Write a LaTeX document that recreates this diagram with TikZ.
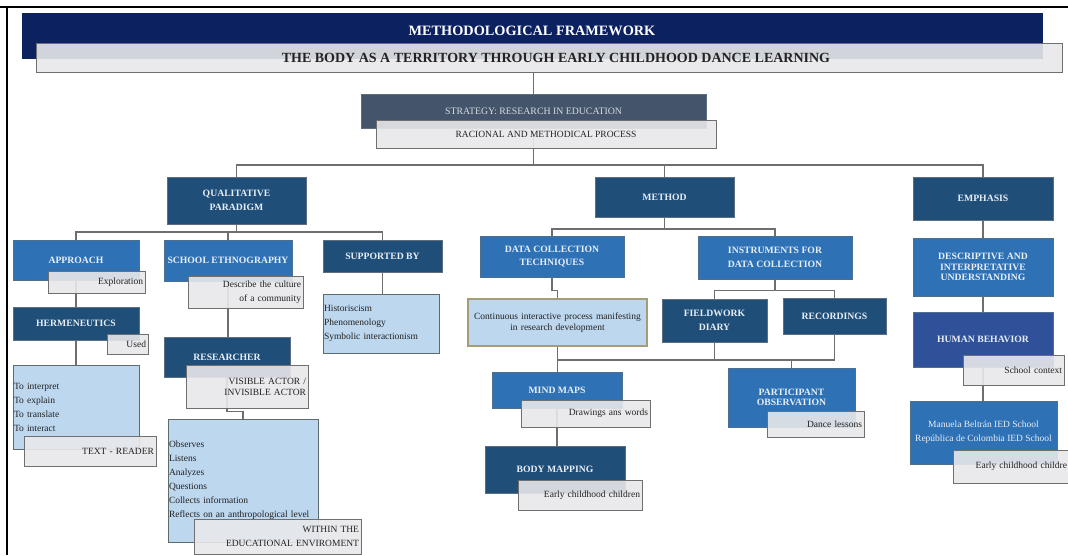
\documentclass[tikz,border=0pt]{standalone}
\usepackage{fontspec}
\setmainfont{Liberation Serif}
\usetikzlibrary{backgrounds}
\definecolor{navy}{HTML}{0B2160}
\definecolor{slate}{HTML}{44546A}
\definecolor{dblue}{HTML}{1F4E79}
\definecolor{mblue}{HTML}{2E72B5}
\definecolor{hblue}{HTML}{2E519A}
\definecolor{lblue}{HTML}{BDD7EE}
\definecolor{gfill}{HTML}{E8E8EA}
\definecolor{gborder}{HTML}{6F6F6F}
\definecolor{dborder}{HTML}{5E6E7E}
\definecolor{mborder}{HTML}{4F6F8F}
\definecolor{lborder}{HTML}{5C6B6B}
\definecolor{oborder}{HTML}{A39E78}
\definecolor{linegrey}{HTML}{6E6E6E}
\definecolor{ltxt}{HTML}{E8EEF6}
\definecolor{stxt}{HTML}{D8DCE2}
\definecolor{dtxt}{HTML}{222222}
\tikzset{
  conn/.style={draw=linegrey, line width=1.1pt},
  bx/.style={rectangle, line width=1pt, inner sep=2pt, align=center},
  dbox/.style={bx, draw=dborder, fill=dblue, text=ltxt, font=\fontsize{9.7}{13.5}\selectfont\bfseries},
  mbox/.style={bx, draw=mborder, fill=mblue, text=ltxt, font=\fontsize{9.7}{13.5}\selectfont\bfseries},
  hbox/.style={bx, draw=mborder, fill=hblue, text=ltxt, font=\fontsize{9.7}{13.5}\selectfont\bfseries},
  sbox/.style={bx, draw=dborder, fill=slate, text=stxt, font=\fontsize{9.8}{11}\selectfont},
  navybox/.style={bx, draw=navy, fill=navy},
  gbox/.style={bx, draw=gborder, fill=gfill, fill opacity=0.9, text opacity=1, text=dtxt, font=\fontsize{9.5}{14}\selectfont},
  gright/.style={gbox, align=right},
  lbox/.style={bx, draw=lborder, fill=lblue, text=dtxt, align=left, inner xsep=1pt, font=\fontsize{9.5}{14}\selectfont},
}
\begin{document}
\begin{tikzpicture}[x=1pt,y=-1pt]
\useasboundingbox (0,0) rectangle (1068,555);
\begin{scope}[on background layer]
\fill[white] (0,0) rectangle (1068,555);
\end{scope}
\clip (0,0) rectangle (1068,555);
\draw[line width=1.5pt] (0,7) -- (1068,7);
\draw[line width=1.5pt] (7,7) -- (7,555);

% header
\node[navybox, minimum width=1020, minimum height=45,
  label={[text=white, font=\fontsize{14.3}{16}\selectfont\bfseries, yshift=4.5pt]center:METHODOLOGICAL FRAMEWORK}] (title) at (532,35.5) {};
\node[gbox, minimum width=1026, minimum height=29, font=\fontsize{14}{16}\selectfont\bfseries] (titleg) at (549,57.5) {\hspace*{14pt}THE BODY AS A TERRITORY THROUGH EARLY CHILDHOOD DANCE LEARNING};
\node[sbox, minimum width=345, minimum height=34, yshift=2pt] (strat) at (533.5,113) {STRATEGY: RESEARCH IN EDUCATION};
\node[gbox, minimum width=340, minimum height=28] (racional) at (546,134) {RACIONAL AND METHODICAL PROCESS};

% level 1
\node[dbox, minimum width=139, minimum height=47] (qual) at (236.5,200.5) {QUALITATIVE\\PARADIGM};
\node[dbox, minimum width=139, minimum height=40] (method) at (664.5,197) {METHOD};
\node[dbox, minimum width=140, minimum height=43] (emph) at (983,198.5) {EMPHASIS};

% qualitative branch
\node[mbox, minimum width=126, minimum height=40] (app) at (76,260) {APPROACH};
\node[gright, minimum height=22, text width=93] (explo) at (96.5,282) {Exploration};
\node[mbox, minimum width=128, minimum height=41] (eth) at (228,260.5) {SCHOOL ETHNOGRAPHY};
\node[gright, minimum height=32, text width=111] (describe) at (245.5,292) {Describe the culture\\of a community};
\node[dbox, minimum width=119, minimum height=32] (sup) at (382.5,256) {SUPPORTED BY};
\node[lbox, minimum height=59, text width=114] (slist) at (381,323.5) {Historiscism\\Phenomenology\\Symbolic interactionism};
\node[dbox, minimum width=126, minimum height=33] (herm) at (76,323.5) {HERMENEUTICS};
\node[gright, minimum height=20, text width=37] (used) at (127.5,344) {Used};
\node[lbox, minimum height=84, text width=124] (hlist) at (76,407) {To interpret\\To explain\\To translate\\To interact};
\node[gright, minimum height=30, text width=128] (textr) at (90,451) {TEXT - READER};
\node[dbox, minimum width=126, minimum height=40] (res) at (227,357) {RESEARCHER};
\node[gright, minimum height=43, text width=118, font=\fontsize{9.5}{11}\selectfont] (vis) at (247,386.5) {VISIBLE ACTOR /\\INVISIBLE ACTOR};
\node[lbox, minimum height=123, text width=148] (rlist) at (243,480.5) {Observes\\Listens\\Analyzes\\Questions\\Collects information\\Reflects on an anthropological level};
\node[gright, minimum height=35, text width=163] (within) at (277.5,536.5) {WITHIN THE\\EDUCATIONAL ENVIROMENT};

% method branch
\node[mbox, minimum width=144, minimum height=41] (dct) at (552,256.5) {DATA COLLECTION\\TECHNIQUES};
\node[mbox, minimum width=154, minimum height=43] (ins) at (775,257.5) {INSTRUMENTS FOR\\DATA COLLECTION};
\node[lbox, draw=oborder, line width=1.3pt, align=center, minimum height=47, text width=177, font=\fontsize{9.5}{10.5}\selectfont] (cont) at (557.5,322.5) {Continuous interactive process manifesting\\in research development};
\node[dbox, minimum width=105, minimum height=43] (fw) at (714.5,320.5) {FIELDWORK\\DIARY};
\node[dbox, minimum width=103, minimum height=36] (rec) at (834.5,316) {RECORDINGS};
\node[mbox, minimum width=130, minimum height=36] (mind) at (557,390) {MIND MAPS};
\node[gright, minimum height=27, text width=125] (drawings) at (585.5,413.5) {Drawings ans words};
\node[dbox, minimum width=140, minimum height=47] (body) at (555,469.5) {BODY MAPPING};
\node[gright, minimum height=30, text width=120] (earlyb) at (580,495) {Early childhood children};
\node[mbox, minimum width=127, minimum height=59, font=\fontsize{9.7}{10.5}\selectfont\bfseries] (part) at (791.5,397.5) {PARTICIPANT\\OBSERVATION};
\node[gright, minimum height=26, text width=93] (dance) at (815.5,424) {Dance lessons};

% emphasis branch
\node[mbox, minimum width=140, minimum height=58, font=\fontsize{9.7}{10.5}\selectfont\bfseries] (desc) at (983,267) {DESCRIPTIVE AND\\INTERPRETATIVE\\UNDERSTANDING};
\node[hbox, minimum width=140, minimum height=55] (hb) at (983,339.5) {HUMAN BEHAVIOR};
\node[gright, minimum height=30, text width=97] (school) at (1013.5,370) {School context};
\node[mbox, minimum width=147, minimum height=63, font=\fontsize{9.5}{14}\selectfont] (man) at (983.5,432.5) {Manuela Beltrán IED School\\República de Colombia IED School};
\node[gright, minimum height=33, text width=112] (earlyr) at (1011,466.5) {Early childhood childre};

% connectors
\begin{scope}[on background layer]
\coordinate (mbus) at (533.5,165);
\coordinate (qbus) at (236.5,232);
\coordinate (mtbus) at (664.5,229);
\coordinate (bbus) at (557.5,360);
\draw[conn] (strat.north) -- (strat.north |- titleg.south);
\draw[conn] (strat.south) -- (mbus);
\draw[conn] (qual.north) |- (mbus) -| (emph.north);
\draw[conn] (mbus) -| (method.north);
\draw[conn] (qual.south) -- (qbus);
\draw[conn] (app.north) |- (qbus) -| (sup.north);
\draw[conn] (eth.north) -- (eth.north |- qbus);
\draw[conn] (app.south) -- (herm.north);
\draw[conn] (herm.south) -- (hlist.north);
\draw[conn] (eth.south) -- (eth.south |- res.north);
\draw[conn] (res.south) -- ++(0,34) -| (rlist.north);
\draw[conn] (sup.south) -- (sup.south |- slist.north);
\draw[conn] (method.south) -- (mtbus);
\draw[conn] (dct.north) |- (mtbus) -| (ins.north);
\draw[conn] (dct.south) -- ++(0,13) -| (cont.north);
\draw[conn] (ins.south) -- ++(0,11) coordinate (ibus);
\draw[conn] (fw.north) |- (ibus) -| (rec.north);
\draw[conn] (cont.south) -- (bbus) -| (rec.south);
\draw[conn] (fw.south) -- (fw.south |- bbus);
\draw[conn] (bbus) -- (bbus |- mind.north);
\draw[conn] (part.north) -- (part.north |- bbus);
\draw[conn] (mind.south) -- (mind.south |- body.north);
\draw[conn] (emph.south) -- (desc.north);
\draw[conn] (desc.south) -- (hb.north);
\draw[conn] (hb.south) -- (hb.south |- man.north);
\end{scope}
\end{tikzpicture}
\end{document}
